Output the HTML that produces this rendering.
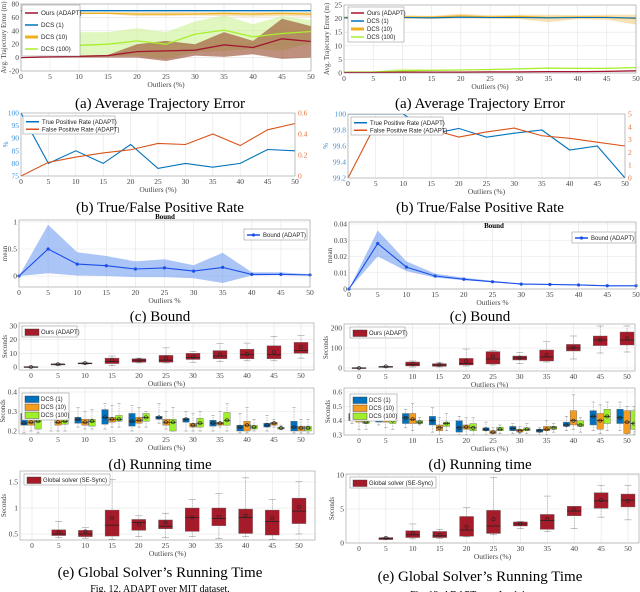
<!DOCTYPE html>
<html><head><meta charset="utf-8">
<style>
html,body{margin:0;padding:0;background:#fff;}
svg{display:block;}
text{font-family:"Liberation Serif",serif;}
.sans{font-family:"Liberation Sans",sans-serif;}
</style></head>
<body>
<svg id="fig" width="640" height="592" viewBox="0 0 640 592" xmlns="http://www.w3.org/2000/svg">
<text x="160" y="108" font-size="15" text-anchor="middle">(a) Average Trajectory Error</text>
<text x="480" y="108" font-size="15" text-anchor="middle">(a) Average Trajectory Error</text>
<text x="160" y="212" font-size="15" text-anchor="middle">(b) True/False Positive Rate</text>
<text x="480" y="212" font-size="15" text-anchor="middle">(b) True/False Positive Rate</text>
<text x="160" y="321" font-size="15" text-anchor="middle">(c) Bound</text>
<text x="480" y="321" font-size="15" text-anchor="middle">(c) Bound</text>
<text x="160" y="469" font-size="15" text-anchor="middle">(d) Running time</text>
<text x="480" y="469" font-size="15" text-anchor="middle">(d) Running time</text>
<text x="160" y="577" font-size="15" text-anchor="middle">(e) Global Solver’s Running Time</text>
<text x="480" y="581" font-size="15" text-anchor="middle">(e) Global Solver’s Running Time</text>
<text x="160" y="592" font-size="10" text-anchor="middle">Fig. 12.   ADAPT over MIT dataset.</text>
<text x="480" y="598" font-size="10" text-anchor="middle">Fig. 13.   ADAPT over Intel dataset.</text>
</svg>
<script>
// ---------- data ----------
const outliers = [0,5,10,15,20,25,30,35,40,45,50];
// (a) MIT
const mitOursMean = [0,1,2,3,9,10,11,19,15,28,24];
const mitOursLo = [0,0,0,0,0,-5,3,1,5,-2,0];
const mitOursHi = [0,1,3,4,20,25,20,38,25,58,47];
const mitDcs1Mean = [70,70,70,70,70,70,70,70,70,70,70];
const mitDcs10Mean = [66,66,66,66,65,65,65,66,65,66,65];
const mitDcs10Lo = [66,66,66,65,62,62,63,62,61,62,61];
const mitDcs10Hi = [67,67,68,68,68,68,68,68,68,68,68];
const mitDcs100Mean = [9,11,18,20,25,20,35,41,31,36,39];
const mitDcs100Lo = [9,7,0,2,3,-2,8,10,13,10,22];
const mitDcs100Hi = [9,15,38,38,44,38,54,63,50,62,56];
// (a) Intel
const intOursMean = [0.2,0.2,0.3,0.3,0.3,0.4,0.4,0.5,0.5,0.6,0.8];
const intDcs1Mean = [20.3,20.3,20.4,20.3,20.5,20.4,20.4,20.3,20.4,20.4,20.2];
const intDcs10Mean = [20.4,20.5,20.6,20.5,21,20.6,20.8,20.4,20.6,20.5,20];
const intDcs10Lo = [20,20,20,19.8,20.2,20,19.8,18.7,19.8,19.6,17.8];
const intDcs10Hi = [20.8,21,21.2,21,21.8,21.2,21.4,21.4,21.2,21.4,21.4];
const intDcs100Mean = [0.3,0.4,0.8,1,1.1,1.3,1.5,1.8,1.7,1.7,2];
const intDcs100Hi = [0.4,0.5,1.6,1.3,1.3,1.5,1.8,2.1,1.9,2,2.3];
// (b)
const mitTpr = [100,80,85,80,87.5,78,80,78.5,80,85.5,85];
const mitFpr = [0,0.13,0.18,0.22,0.25,0.31,0.3,0.4,0.29,0.44,0.5];
const intTpr = [100,100,100,99.75,99.82,99.71,99.76,99.8,99.55,99.6,99.2];
const intFpr = [0,4.2,4,3.8,3.2,3.6,3.9,3.3,3.1,2.8,2.5];
// (c)
const mitBound = [0,0.5,0.22,0.19,0.13,0.15,0.09,0.16,0.03,0.03,0.02];
const mitBoundLo = [0,0.05,0.01,0,-0.02,-0.02,-0.04,-0.13,0.01,0.02,0.02];
const mitBoundHi = [0,0.95,0.44,0.37,0.27,0.31,0.2,0.43,0.07,0.07,0.03];
const intBound = [0,0.028,0.0135,0.008,0.006,0.0045,0.003,0.0028,0.0025,0.002,0.002];
const intBoundLo = [0,0.02,0.011,0.007,0.0055,0.004,0.003,0.0026,0.0022,0.0018,0.0018];
const intBoundHi = [0,0.036,0.017,0.0095,0.007,0.005,0.0035,0.003,0.0028,0.0023,0.0022];
// (d) ours running time
const mitOursMed = [0,2,2.6,4,5,5,7,8,9,9,12];
const mitOursQ1 = [0,1.5,2.3,2.5,3.5,3.5,5.5,6,6,6,10];
const mitOursQ3 = [0.3,2.3,3,6.5,6,8.5,10,12,13,15.5,18];
const mitOursWlo = [-0.3,1.2,2,1,3,3,3.5,4,4.5,4.5,6.5];
const mitOursWhi = [0.3,2.6,3.5,8,6.5,14,11.5,17,17.5,22.5,23];
const mitOursAvg = [0,2,2.8,5,5,6.5,7.5,9,9.5,11,14.5];
const intOursMed = [0,6,18,15,22,45,50,55,100,140,140];
const intOursQ1 = [0,3,10,8,15,20,40,35,85,112,115];
const intOursQ3 = [2,8,30,22,48,82,60,90,118,160,180];
const intOursWlo = [-2,2,5,5,10,15,22,30,45,75,80];
const intOursWhi = [2,10,35,28,95,88,78,132,160,210,210];
const intOursAvg = [0,8,20,17,35,58,52,65,102,140,148];
// (d) DCS MIT
const mD1Med=[0.24,0.27,0.26,0.27,0.25,0.27,0.26,0.24,0.22,0.23,0.22];
const mD1Q1=[0.23,0.26,0.24,0.235,0.225,0.26,0.245,0.225,0.2,0.22,0.2];
const mD1Q3=[0.29,0.29,0.27,0.31,0.29,0.275,0.265,0.255,0.23,0.24,0.25];
const mD1Lo=[0.19,0.2,0.22,0.21,0.2,0.24,0.2,0.2,0.19,0.2,0.19];
const mD1Hi=[0.33,0.32,0.32,0.34,0.33,0.34,0.3,0.28,0.29,0.28,0.32];
const mD10Med=[0.245,0.245,0.245,0.26,0.255,0.245,0.23,0.24,0.23,0.24,0.215];
const mD10Q1=[0.23,0.23,0.23,0.245,0.24,0.23,0.22,0.23,0.2,0.23,0.2];
const mD10Q3=[0.26,0.26,0.26,0.27,0.27,0.26,0.24,0.245,0.25,0.245,0.225];
const mD10Lo=[0.2,0.2,0.21,0.22,0.22,0.21,0.2,0.22,0.19,0.22,0.19];
const mD10Hi=[0.3,0.3,0.3,0.33,0.32,0.3,0.29,0.3,0.32,0.26,0.26];
const mD100Med=[0.25,0.25,0.25,0.26,0.27,0.245,0.24,0.255,0.22,0.215,0.215];
const mD100Q1=[0.21,0.235,0.225,0.25,0.25,0.2,0.22,0.23,0.21,0.21,0.2];
const mD100Q3=[0.28,0.265,0.26,0.28,0.29,0.26,0.265,0.295,0.23,0.22,0.225];
const mD100Lo=[0.19,0.2,0.21,0.22,0.22,0.2,0.2,0.2,0.2,0.21,0.19];
const mD100Hi=[0.32,0.32,0.31,0.34,0.3,0.32,0.3,0.34,0.26,0.23,0.26];
// (d) DCS Intel
const iD1Med=[0.42,0.42,0.42,0.4,0.35,0.34,0.345,0.33,0.37,0.43,0.42];
const iD1Q1=[0.4,0.39,0.38,0.37,0.32,0.33,0.33,0.32,0.36,0.37,0.38];
const iD1Q3=[0.45,0.45,0.45,0.43,0.4,0.35,0.36,0.34,0.39,0.47,0.48];
const iD1Lo=[0.38,0.37,0.35,0.32,0.3,0.3,0.31,0.3,0.33,0.33,0.33];
const iD1Hi=[0.5,0.48,0.48,0.49,0.43,0.39,0.38,0.35,0.43,0.53,0.53];
const iD10Med=[0.41,0.41,0.41,0.35,0.355,0.32,0.33,0.34,0.4,0.4,0.39];
const iD10Q1=[0.39,0.39,0.38,0.33,0.34,0.31,0.32,0.33,0.37,0.34,0.31];
const iD10Q3=[0.43,0.44,0.45,0.37,0.37,0.33,0.34,0.36,0.47,0.45,0.47];
const iD10Lo=[0.34,0.35,0.33,0.3,0.3,0.3,0.31,0.3,0.34,0.31,0.3];
const iD10Hi=[0.47,0.47,0.52,0.42,0.42,0.35,0.36,0.4,0.58,0.51,0.5];
const iD100Med=[0.39,0.4,0.39,0.38,0.35,0.34,0.34,0.35,0.37,0.43,0.38];
const iD100Q1=[0.38,0.38,0.38,0.36,0.33,0.33,0.33,0.34,0.36,0.38,0.34];
const iD100Q3=[0.41,0.42,0.4,0.39,0.38,0.355,0.35,0.36,0.4,0.48,0.47];
const iD100Lo=[0.34,0.34,0.37,0.33,0.3,0.31,0.31,0.32,0.32,0.33,0.3];
const iD100Hi=[0.43,0.45,0.42,0.45,0.42,0.37,0.38,0.38,0.42,0.53,0.5];
// (e) global solver
const mGMed=[null,0.5,0.5,0.67,0.72,0.65,0.82,0.8,0.82,0.74,0.94];
const mGQ1=[null,0.47,0.45,0.46,0.57,0.6,0.55,0.66,0.51,0.48,0.7];
const mGQ3=[null,0.58,0.57,0.96,0.78,0.77,1.0,1.0,0.98,0.96,1.19];
const mGLo=[null,0.43,0.42,0.4,0.45,0.43,0.45,0.41,0.45,0.4,0.5];
const mGHi=[null,0.74,0.62,1.55,0.85,0.9,1.16,1.28,1.58,1.16,1.51];
const mGAvg=[null,0.53,0.55,0.81,0.68,0.72,0.82,0.83,0.85,0.8,1.02];
const iGMed=[null,0.65,1.2,1.05,1.9,2.5,2.8,3.3,4.7,6.2,6.3];
const iGQ1=[null,0.5,0.8,0.8,1.0,1.4,2.5,2.0,4.0,5.1,5.3];
const iGQ3=[null,0.8,1.8,1.7,3.9,4.8,3.1,4.2,5.4,7.4,7.2];
const iGLo=[null,0.5,0.6,0.7,0.9,1.2,2.1,1.7,2.1,3.8,3.4];
const iGHi=[null,0.85,2.8,2.0,5.2,9.6,3.2,6.9,5.4,8.5,8.5];
const iGAvg=[null,0.75,1.45,1.2,2.4,3.5,2.8,3.5,4.9,6.3,6.2];
const xTicks = [0,5,10,15,20,25,30,35,40,45,50];

// ---------- helpers ----------
const NS='http://www.w3.org/2000/svg';
const svg=document.getElementById('fig');
function mk(tag,name,attrs,parent){
  const el=document.createElementNS(NS,tag);
  
  
  for(const k in attrs) el.setAttribute(k,attrs[k]);
  (parent||svg).appendChild(el);
  return el;
}
function lin(d0,d1,p0,p1){return v=>p0+(v-d0)*(p1-p0)/(d1-d0);}
function fmt(v){return String(+v.toFixed(4));}
function axes(c){
  const g=mk('g',c.name,{});
  const sx=lin(0,50,c.x0,c.x1), sy=lin(c.ya,c.yb,c.pa,c.pb);
  mk('rect',c.name+'-background',{x:c.L,y:c.T,width:c.R-c.L,height:c.B-c.T,fill:'#fff'},g);
  xTicks.forEach(t=>{
    mk('line',c.name+'-xgrid',{x1:sx(t),x2:sx(t),y1:c.T,y2:c.B,stroke:'#e4e4e4','stroke-width':0.6},g);
    const tl=mk('text',c.name+'-xtick-label',{x:sx(t),y:c.B+8,'font-size':7.5,'text-anchor':'middle',fill:'#444'},g);
    tl.textContent=t;
  });
  c.yt.forEach(t=>{
    if(c.grid!==false) mk('line',c.name+'-ygrid',{x1:c.L,x2:c.R,y1:sy(t),y2:sy(t),stroke:'#e4e4e4','stroke-width':0.6},g);
    const tl=mk('text',c.name+'-ytick-label',{x:c.L-2,y:sy(t)+2.5,'font-size':7.5,'text-anchor':'end',fill:c.ycol||'#444'},g);
    tl.textContent=fmt(t);
  });
  const xl=mk('text',c.name+'-x-axis-title',{x:(c.L+c.R)/2,y:c.B+16,'font-size':7.5,'text-anchor':'middle',fill:'#444'},g);
  xl.textContent=c.xlab||'Outliers (%)';
  const yl=mk('text',c.name+'-y-axis-title',{x:0,y:0,'font-size':7,'text-anchor':'middle',fill:c.ycol||'#444',transform:`translate(${c.L-(c.ylOff||14)},${(c.T+c.B)/2}) rotate(-90)`},g);
  yl.textContent=c.ylab;
  return {g,sx,sy,c};
}
function frame(a){const c=a.c;mk('rect',c.name+'-frame',{x:c.L,y:c.T,width:c.R-c.L,height:c.B-c.T,fill:'none',stroke:'#999','stroke-width':0.6},a.g);}
function line(a,xs,ys,col,w,name){
  const p=xs.map((x,i)=>(i?'L':'M')+a.sx(x).toFixed(1)+','+a.sy(ys[i]).toFixed(1)).join('');
  return mk('path',name,{d:p,fill:'none',stroke:col,'stroke-width':w},a.g);
}
function band(a,xs,lo,hi,fill,name){
  let p=xs.map((x,i)=>(i?'L':'M')+a.sx(x).toFixed(1)+','+a.sy(hi[i]).toFixed(1)).join('');
  for(let i=xs.length-1;i>=0;i--)p+='L'+a.sx(xs[i]).toFixed(1)+','+a.sy(lo[i]).toFixed(1);
  return mk('path',name,{d:p+'Z',fill:fill,stroke:'none'},a.g);
}
function legend(a,x,y,w,items,rowH,fs){
  rowH=rowH||9; fs=fs||6;
  mk('rect',a.c.name+'-legend',{x:x,y:y,width:w,height:items.length*rowH+3,fill:'#fff',stroke:'#888','stroke-width':0.5},a.g);
  items.forEach((it,i)=>{
    const cy=y+3+rowH*i+rowH/2-1;
    if(it.box) mk('rect',a.c.name+'-legend-swatch',{x:x+3,y:cy-3,width:14,height:6.5,fill:it.col,stroke:'#333','stroke-width':0.4},a.g);
    else mk('line',a.c.name+'-legend-swatch',{x1:x+3,x2:x+16,y1:cy,y2:cy,stroke:it.col,'stroke-width':it.w||1.5},a.g);
    if(it.marker) mk('circle',a.c.name+'-legend-marker',{cx:x+9.5,cy:cy,r:1.6,fill:it.col},a.g);
    const t=mk('text',a.c.name+'-legend-entry',{x:x+19,y:cy+2.1,'font-size':fs,fill:'#222',class:'sans'},a.g);
    t.textContent=it.label;
  });
}
function boxes(a,med,q1,q3,lo,hi,avg,col,off,w,name){
  outliers.forEach((x,i)=>{
    if(med[i]===null) return;
    const cx=a.sx(x)+off;
    mk('line',name+'-whisker',{x1:cx,x2:cx,y1:a.sy(lo[i]),y2:a.sy(hi[i]),stroke:'#888','stroke-width':0.5,'stroke-dasharray':'1.5,1'},a.g);
    mk('line',name+'-whisker-cap',{x1:cx-w/4,x2:cx+w/4,y1:a.sy(hi[i]),y2:a.sy(hi[i]),stroke:'#888','stroke-width':0.5},a.g);
    mk('line',name+'-whisker-cap',{x1:cx-w/4,x2:cx+w/4,y1:a.sy(lo[i]),y2:a.sy(lo[i]),stroke:'#888','stroke-width':0.5},a.g);
    const yt=a.sy(q3[i]),yb=a.sy(q1[i]);
    mk('rect',name+'-box',{x:cx-w/2,y:Math.min(yt,yb),width:w,height:Math.max(1,Math.abs(yb-yt)),fill:col,stroke:'#666','stroke-width':0.4},a.g);
    mk('line',name+'-median',{x1:cx-w/2,x2:cx+w/2,y1:a.sy(med[i]),y2:a.sy(med[i]),stroke:'#222','stroke-width':0.8},a.g);
    mk('circle',name+'-mean',{cx:cx,cy:a.sy(avg[i]),r:1.6,fill:'none',stroke:'#222','stroke-width':0.6},a.g);
  });
}
function clip(a){
  const id='clip-'+a.c.name;
  const cp=mk('clipPath',a.c.name+'-clip',{id:id},a.g);
  mk('rect',a.c.name+'-clip-rect',{x:a.c.L,y:a.c.T,width:a.c.R-a.c.L,height:a.c.B-a.c.T},cp);
  const g=mk('g',a.c.name+'-plot-area',{'clip-path':`url(#${id})`},a.g);
  return Object.assign({},a,{g:g,outer:a.g});
}

const RED='#a2142f',BLUE='#0072bd',ORG='#edb120',GRN='#a8f02c',BOXRED='#a61b29';

// (a) MIT
let A=axes({name:'traj-error-mit',L:21,R:311,T:4,B:71,x0:21,x1:311,ya:80,yb:-20,pa:4,pb:71,yt:[-20,0,20,40,60,80],ylab:'Avg. Trajectory Error (m)',ylOff:15});
let P=clip(A);
band(P,outliers,mitDcs100Lo,mitDcs100Hi,'rgba(200,240,140,0.55)','dcs100-band-mit');
band(P,outliers,mitOursLo,mitOursHi,'rgba(150,70,40,0.6)','ours-band-mit');
band(P,outliers,mitDcs10Lo,mitDcs10Hi,'rgba(240,200,120,0.5)','dcs10-band-mit');
line(P,outliers,mitDcs1Mean,BLUE,1.3,'dcs1-line-mit');
line(P,outliers,mitDcs10Mean,ORG,1.3,'dcs10-line-mit');
line(P,outliers,mitDcs100Mean,GRN,1.3,'dcs100-line-mit');
line(P,outliers,mitOursMean,RED,1.3,'ours-line-mit');
frame(A);
legend(A,22,5,58,[{label:'Ours (ADAPT)',col:RED},{label:'DCS (1)',col:BLUE},{label:'DCS (10)',col:ORG,w:3},{label:'DCS (100)',col:GRN}],12,6.3);

// (a) Intel
A=axes({name:'traj-error-intel',L:344,R:636,T:5,B:73,x0:344,x1:636,ya:25,yb:0,pa:5,pb:73,yt:[0,5,10,15,20,25],ylab:'Avg. Trajectory Error (m)',ylOff:15});
P=clip(A);
band(P,outliers,intDcs10Lo,intDcs10Hi,'rgba(240,200,120,0.55)','dcs10-band-intel');
band(P,outliers,intDcs100Mean,intDcs100Hi,'rgba(200,240,140,0.6)','dcs100-band-intel');
line(P,outliers,intDcs10Mean,ORG,1.3,'dcs10-line-intel');
line(P,outliers,intDcs1Mean,BLUE,1.1,'dcs1-line-intel');
line(P,outliers,intDcs100Mean,GRN,1.3,'dcs100-line-intel');
line(P,outliers,intOursMean,RED,1.3,'ours-line-intel');
frame(A);
legend(A,348,7,56,[{label:'Ours (ADAPT)',col:RED},{label:'DCS (1)',col:BLUE},{label:'DCS (10)',col:ORG,w:3},{label:'DCS (100)',col:GRN}],8,6);

// (b) MIT
A=axes({name:'tpr-fpr-mit',L:21,R:295,T:113,B:176,x0:21,x1:295,ya:100,yb:75,pa:113,pb:176,yt:[75,80,85,90,95,100],ylab:'%',ycol:'#3a8fd8',grid:false,ylOff:13});
let sR=lin(0,0.6,176,113);
[0,0.2,0.4,0.6].forEach(t=>{const tl=mk('text','tpr-fpr-mit-right-tick-label',{x:298,y:sR(t)+2.5,'font-size':7.5,fill:'#e0703a'},A.g);tl.textContent=fmt(t);});
line(A,outliers,mitTpr,BLUE,1.1,'tpr-line-mit');
mk('path','fpr-line-mit',{d:outliers.map((x,i)=>(i?'L':'M')+A.sx(x)+','+sR(mitFpr[i])).join(''),fill:'none',stroke:'#d95319','stroke-width':1.1},A.g);
frame(A);
legend(A,23,116,92,[{label:'True Positive Rate (ADAPT)',col:BLUE},{label:'False Positive Rate (ADAPT)',col:'#d95319'}],7.5,6);

// (b) Intel
A=axes({name:'tpr-fpr-intel',L:348,R:625,T:114,B:178,x0:348,x1:625,ya:100,yb:99.2,pa:114,pb:178,yt:[99.2,99.4,99.6,99.8,100],ylab:'%',ycol:'#3a8fd8',grid:false,ylOff:20});
sR=lin(0,5,178,114);
[0,1,2,3,4,5].forEach(t=>{const tl=mk('text','tpr-fpr-intel-right-tick-label',{x:628,y:sR(t)+2.5,'font-size':7.5,fill:'#e0703a'},A.g);tl.textContent=t;});
P=clip(A);
line(P,outliers,intTpr,BLUE,1.1,'tpr-line-intel');
mk('path','fpr-line-intel',{d:outliers.map((x,i)=>(i?'L':'M')+A.sx(x)+','+sR(intFpr[i])).join(''),fill:'none',stroke:'#d95319','stroke-width':1.1},P.g);
frame(A);
legend(A,351,117,92,[{label:'True Positive Rate (ADAPT)',col:BLUE},{label:'False Positive Rate (ADAPT)',col:'#d95319'}],7.5,6);

// (c) MIT
A=axes({name:'bound-mit',L:19,R:310,T:220,B:287,x0:19,x1:310,ya:1,yb:0,pa:222,pb:276,yt:[0,0.5,1],ylab:'mean',xlab:'Outliers %',ylOff:12});
band(A,outliers,mitBoundLo,mitBoundHi,'rgba(90,140,240,0.5)','bound-band-mit');
line(A,outliers,mitBound,'#1a4fe8',1.1,'bound-line-mit');
outliers.forEach((x,i)=>mk('circle','bound-marker-mit',{cx:A.sx(x),cy:A.sy(mitBound[i]),r:1.6,fill:'#1a4fe8'},A.g));
frame(A);
legend(A,244,229,63,[{label:'Bound (ADAPT)',col:'#1a4fe8',marker:true}],8,6);
let tt=mk('text','bound-mit-title',{x:165,y:219,'font-size':7,'font-weight':'bold','text-anchor':'middle'},A.g);tt.textContent='Bound';

// (c) Intel
A=axes({name:'bound-intel',L:349,R:636,T:222,B:289,x0:349,x1:636,ya:0.04,yb:0,pa:224,pb:289,yt:[0,0.01,0.02,0.03,0.04],ylab:'mean',xlab:'Outliers %',ylOff:17});
band(A,outliers,intBoundLo,intBoundHi,'rgba(90,140,240,0.5)','bound-band-intel');
line(A,outliers,intBound,'#1a4fe8',1.1,'bound-line-intel');
outliers.forEach((x,i)=>mk('circle','bound-marker-intel',{cx:A.sx(x),cy:A.sy(intBound[i]),r:1.6,fill:'#1a4fe8'},A.g));
frame(A);
legend(A,572,232,63,[{label:'Bound (ADAPT)',col:'#1a4fe8',marker:true}],8,6);
tt=mk('text','bound-intel-title',{x:494,y:228,'font-size':7,'font-weight':'bold','text-anchor':'middle'},A.g);tt.textContent='Bound';

// (d) ours MIT
A=axes({name:'runtime-ours-mit',L:19,R:314,T:323,B:370,x0:31,x1:301,ya:30,yb:0,pa:326,pb:367,yt:[0,10,20,30],ylab:'Seconds',ylOff:12});
boxes(A,mitOursMed,mitOursQ1,mitOursQ3,mitOursWlo,mitOursWhi,mitOursAvg,BOXRED,0,14,'ours-box-mit');
frame(A);
legend(A,22,326,55,[{label:'Ours (ADAPT)',col:BOXRED,box:true}],8,6);
// (d) ours Intel
A=axes({name:'runtime-ours-intel',L:344,R:635,T:324,B:371,x0:359,x1:627,ya:200,yb:0,pa:328,pb:368,yt:[0,100,200],ylab:'Seconds',ylOff:16});
boxes(A,intOursMed,intOursQ1,intOursQ3,intOursWlo,intOursWhi,intOursAvg,BOXRED,0,14,'ours-box-intel');
frame(A);
legend(A,350,327,55,[{label:'Ours (ADAPT)',col:BOXRED,box:true}],8,6);
// (d) DCS MIT
A=axes({name:'runtime-dcs-mit',L:19,R:314,T:388,B:434,x0:31,x1:301,ya:0.4,yb:0.2,pa:392,pb:431,yt:[0.2,0.3,0.4],ylab:'Seconds',ylOff:14});
P=clip(A);
boxes(P,mD1Med,mD1Q1,mD1Q3,mD1Lo,mD1Hi,mD1Med,BLUE,-7,6.5,'dcs1-box-mit');
boxes(P,mD10Med,mD10Q1,mD10Q3,mD10Lo,mD10Hi,mD10Med,'#f39c1f',0,6.5,'dcs10-box-mit');
boxes(P,mD100Med,mD100Q1,mD100Q3,mD100Lo,mD100Hi,mD100Med,'#9fef2a',7,6.5,'dcs100-box-mit');
frame(A);
legend(A,22,393,47,[{label:'DCS (1)',col:BLUE,box:true},{label:'DCS (10)',col:'#f39c1f',box:true},{label:'DCS (100)',col:'#9fef2a',box:true}],8,6);
// (d) DCS Intel
A=axes({name:'runtime-dcs-intel',L:344,R:635,T:388,B:435,x0:359,x1:627,ya:0.6,yb:0.3,pa:392,pb:435,yt:[0.3,0.4,0.5,0.6],ylab:'Seconds',ylOff:14});
P=clip(A);
boxes(P,iD1Med,iD1Q1,iD1Q3,iD1Lo,iD1Hi,iD1Med,BLUE,-7,6.5,'dcs1-box-intel');
boxes(P,iD10Med,iD10Q1,iD10Q3,iD10Lo,iD10Hi,iD10Med,'#f39c1f',0,6.5,'dcs10-box-intel');
boxes(P,iD100Med,iD100Q1,iD100Q3,iD100Lo,iD100Hi,iD100Med,'#9fef2a',7,6.5,'dcs100-box-intel');
frame(A);
legend(A,350,394,47,[{label:'DCS (1)',col:BLUE,box:true},{label:'DCS (10)',col:'#f39c1f',box:true},{label:'DCS (100)',col:'#9fef2a',box:true}],8,6);
// (e) MIT
A=axes({name:'global-solver-mit',L:20,R:315,T:471,B:540,x0:32,x1:299,ya:1.5,yb:0.5,pa:482,pb:534,yt:[0.5,1,1.5],ylab:'Seconds',ylOff:14});
P=clip(A);
boxes(P,mGMed,mGQ1,mGQ3,mGLo,mGHi,mGAvg,BOXRED,0,14,'global-box-mit');
frame(A);
legend(A,24,474,86,[{label:'Global solver (SE-Sync)',col:BOXRED,box:true}],8,6);
// (e) Intel
A=axes({name:'global-solver-intel',L:346,R:639,T:474,B:543,x0:359,x1:628,ya:10,yb:0,pa:475,pb:543,yt:[0,5,10],ylab:'Seconds',ylOff:12});
boxes(A,iGMed,iGQ1,iGQ3,iGLo,iGHi,iGAvg,BOXRED,0,14,'global-box-intel');
frame(A);
legend(A,350,477,86,[{label:'Global solver (SE-Sync)',col:BOXRED,box:true}],8,6);
</script>
</body></html>
